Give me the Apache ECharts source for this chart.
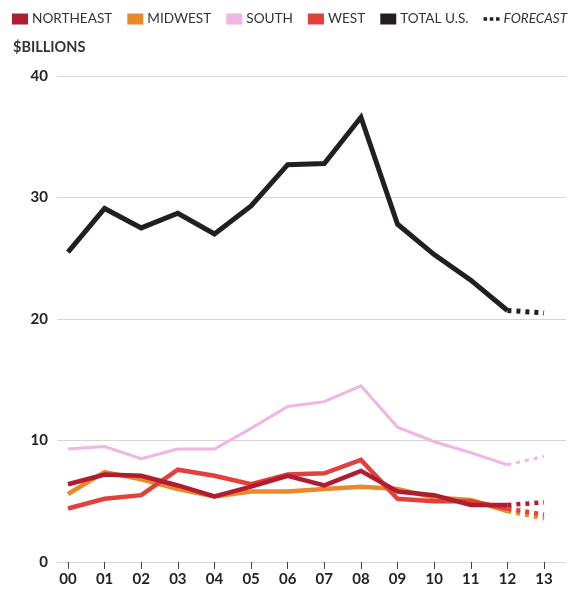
<!DOCTYPE html>
<html>
<head>
<meta charset="utf-8">
<script src="https://cdn.jsdelivr.net/npm/echarts@6/dist/echarts.min.js"></script>
<style>
html,body{margin:0;padding:0;background:#fff;}
#chart{width:573px;height:589px;}
</style>
</head>
<body>
<div id="chart"></div>
<script>
// Data (index 13 = forecast year)
var years = ['00','01','02','03','04','05','06','07','08','09','10','11','12','13'];
var northeast = [6.4, 7.2, 7.1, 6.3, 5.4, 6.2, 7.1, 6.3, 7.5, 5.8, 5.5, 4.7, 4.7, 4.9];
var midwest   = [5.6, 7.4, 6.8, 6.0, 5.4, 5.8, 5.8, 6.0, 6.2, 6.0, 5.3, 5.1, 4.2, 3.6];
var south     = [9.3, 9.5, 8.5, 9.3, 9.3, 11.0, 12.8, 13.2, 14.5, 11.1, 9.9, 9.0, 8.0, 8.7];
var west      = [4.4, 5.2, 5.5, 7.6, 7.1, 6.4, 7.2, 7.3, 8.4, 5.2, 5.0, 5.0, 4.4, 3.9];
var total     = [25.5, 29.1, 27.5, 28.7, 27.0, 29.3, 32.7, 32.8, 36.6, 27.8, 25.3, 23.2, 20.7, 20.5];
var yTicks = [0, 10, 20, 30, 40];
var forecastStart = 12;

var regions = [
  {name:'SOUTH', data:south, color:'#f1b5e1', width:3},
  {name:'MIDWEST', data:midwest, color:'#e8892a', width:4.5},
  {name:'WEST', data:west, color:'#e2413b', width:4.5},
  {name:'NORTHEAST', data:northeast, color:'#b01c30', width:4.5},
  {name:'TOTAL U.S.', data:total, color:'#231f20', width:5}
];

function solid(arr){
  var out=[];
  for(var i=0;i<=forecastStart;i++) out.push([i, arr[i]]);
  return out;
}
function fc(arr){
  var out=[];
  for(var i=forecastStart;i<arr.length;i++) out.push([i, arr[i]]);
  return out;
}

var series=[];
regions.forEach(function(r){
  series.push({
    name:r.name, type:'line', data:solid(r.data), symbol:'none',
    lineStyle:{color:r.color, width:r.width, join:'miter'}, itemStyle:{color:r.color},
    z: r.name==='TOTAL U.S.'?5:3, animation:false
  });
  series.push({
    name: r.name==='TOTAL U.S.' ? 'FORECAST' : r.name+' forecast',
    type:'line', data:fc(r.data), symbol:'none',
    lineStyle:{color:r.color, width:r.width, type:[4,5], cap:'butt'}, itemStyle:{color:r.color},
    z: r.name==='TOTAL U.S.'?5:3, animation:false
  });
});

var idx = years.map(function(y,i){return i;});

var chart = echarts.init(document.getElementById('chart'), null, {renderer:'canvas'});
chart.setOption({
  backgroundColor:'#fff',
  animation:false,
  title:{
    text:'$BILLIONS', left:8, top:35,
    textStyle:{fontFamily:'Lato', fontSize:14.5, fontWeight:'bold', color:'#333'}
  },
  legend:{
    left:7, top:7, itemWidth:16, itemHeight:11, itemGap:15,
    textStyle:{fontFamily:'Lato', fontSize:13.6, color:'#333', padding:[0,0,0,-1]},
    data:[
      {name:'NORTHEAST', icon:'rect', itemStyle:{color:'#b01c30'}},
      {name:'MIDWEST', icon:'rect', itemStyle:{color:'#e8892a'}},
      {name:'SOUTH', icon:'rect', itemStyle:{color:'#f1b5e1'}},
      {name:'WEST', icon:'rect', itemStyle:{color:'#e2413b'}},
      {name:'TOTAL U.S.', icon:'rect', itemStyle:{color:'#231f20'}},
      {name:'FORECAST', icon:'path://M0,0h4v4h-4z M7,0h4v4h-4z M14,0h4v4h-4z', itemStyle:{color:'#231f20'},
        textStyle:{fontStyle:'italic'}}
    ],
    selectedMode:false
  },
  grid:{left:57, right:7, top:76, bottom:27, containLabel:false},
  xAxis:{
    type:'value', min:-0.3, max:13.6,
    axisLine:{show:false},
    splitLine:{show:false},
    axisTick:{show:true, customValues:idx, length:7, lineStyle:{color:'#444', width:1}},
    axisLabel:{customValues:idx, formatter:function(v){return years[Math.round(v)];},
      margin:10, fontFamily:'Lato', fontSize:15, fontWeight:'bold', color:'#222'}
  },
  yAxis:{
    type:'value', min:0, max:40, interval:10,
    axisLine:{show:false}, axisTick:{show:false},
    axisLabel:{margin:9, fontFamily:'Lato', fontSize:15, fontWeight:'bold', color:'#222',
      formatter:function(v){return yTicks.indexOf(v)>=0?String(v):'';}},
    splitLine:{show:true, lineStyle:{color:'#d6d6d6', width:1}}
  },
  series:series
});
</script>
</body>
</html>
